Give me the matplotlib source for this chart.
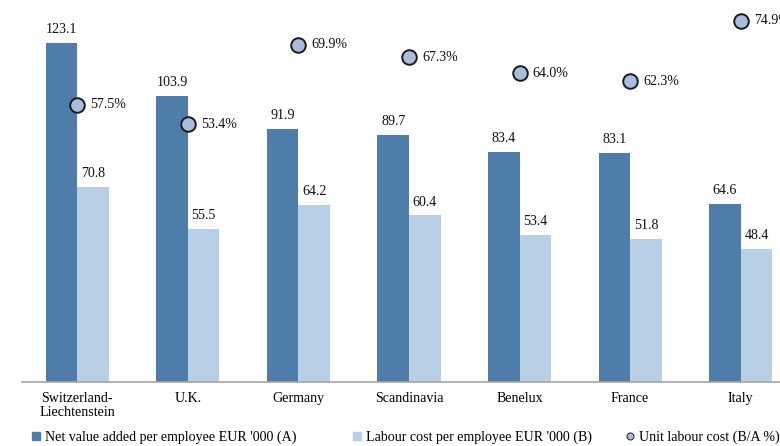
import matplotlib

matplotlib.use("Agg")
import matplotlib.pyplot as plt
import numpy as np
from matplotlib.lines import Line2D

regions = ["Switzerland-\nLiechtenstein", "U.K.", "Germany", "Scandinavia",
           "Benelux", "France", "Italy"]
value_added = [123.1, 103.9, 91.9, 89.7, 83.4, 83.1, 64.6]
labour_cost = [70.8, 55.5, 64.2, 60.4, 53.4, 51.8, 48.4]
unit_cost = [57.5, 53.4, 69.9, 67.3, 64.0, 62.3, 74.9]

DARK = "#4f7daa"
LIGHT = "#b8cfe6"
DOT = "#aabcdc"

plt.rcParams["font.family"] = ["Liberation Serif", "DejaVu Serif"]
plt.rcParams["font.size"] = 10.1

fig = plt.figure(figsize=(7.8, 4.46), dpi=100)
# axes run slightly past the right and top edges of the canvas
ax = fig.add_axes([22 / 780, 1 - 382 / 446, 774 / 780, 386 / 446])
ax2 = ax.twinx()

x = np.arange(len(regions))
w = 0.285
b1 = ax.bar(x - w / 2, value_added, w, color=DARK, zorder=2)
b2 = ax.bar(x + w / 2, labour_cost, w, color=LIGHT, zorder=2)
for bars, vals in ((b1, value_added), (b2, labour_cost)):
    for r, v in zip(bars, vals):
        ax.annotate(f"{v:.1f}", (r.get_x() + r.get_width() / 2, v),
                    xytext=(0, 5), textcoords="offset points",
                    ha="center", va="bottom", color="#111")

ax2.scatter(x, unit_cost, s=110, facecolor=DOT, edgecolor="#1a1a1a",
            linewidth=1.4, zorder=5)
for xi, v in zip(x, unit_cost):
    ax2.annotate(f"{v:.1f}%", (xi, v), xytext=(9.5, 0),
                 textcoords="offset points", ha="left", va="center",
                 color="#111", annotation_clip=False)

ax.set_xlim(-0.5, len(regions) - 0.5)
ax.set_ylim(0, 140)
ax2.set_ylim(0, 80)
ax.set_xticks(x)
ax.set_xticklabels(regions, linespacing=1.1)
ax.tick_params(axis="x", length=0, pad=7)
for a in (ax, ax2):
    a.set_yticks([])
    for s in ("top", "right", "left"):
        a.spines[s].set_visible(False)
    a.spines["bottom"].set_color("#a6a6a6")
    a.spines["bottom"].set_linewidth(1.2)
ax2.spines["bottom"].set_visible(False)

# legend entries placed one by one along the bottom
entries = [
    (Line2D([], [], marker="s", ls="", color=DARK, markersize=6),
     "Net value added per employee EUR '000 (A)", 32),
    (Line2D([], [], marker="s", ls="", color=LIGHT, markersize=6),
     "Labour cost per employee EUR '000 (B)", 353),
    (Line2D([], [], marker="o", ls="", markerfacecolor=DOT,
            markeredgecolor="#333", markersize=5, markeredgewidth=0.8),
     "Unit labour cost (B/A %)", 626),
]
for h, lab, px in entries:
    fig.legend([h], [lab], loc="center left",
               bbox_to_anchor=(px / 780, 1 - 437 / 446), frameon=False,
               handlelength=0.6, handletextpad=0.35,
               borderaxespad=0, borderpad=0)

fig.savefig("out.png", dpi=100)
